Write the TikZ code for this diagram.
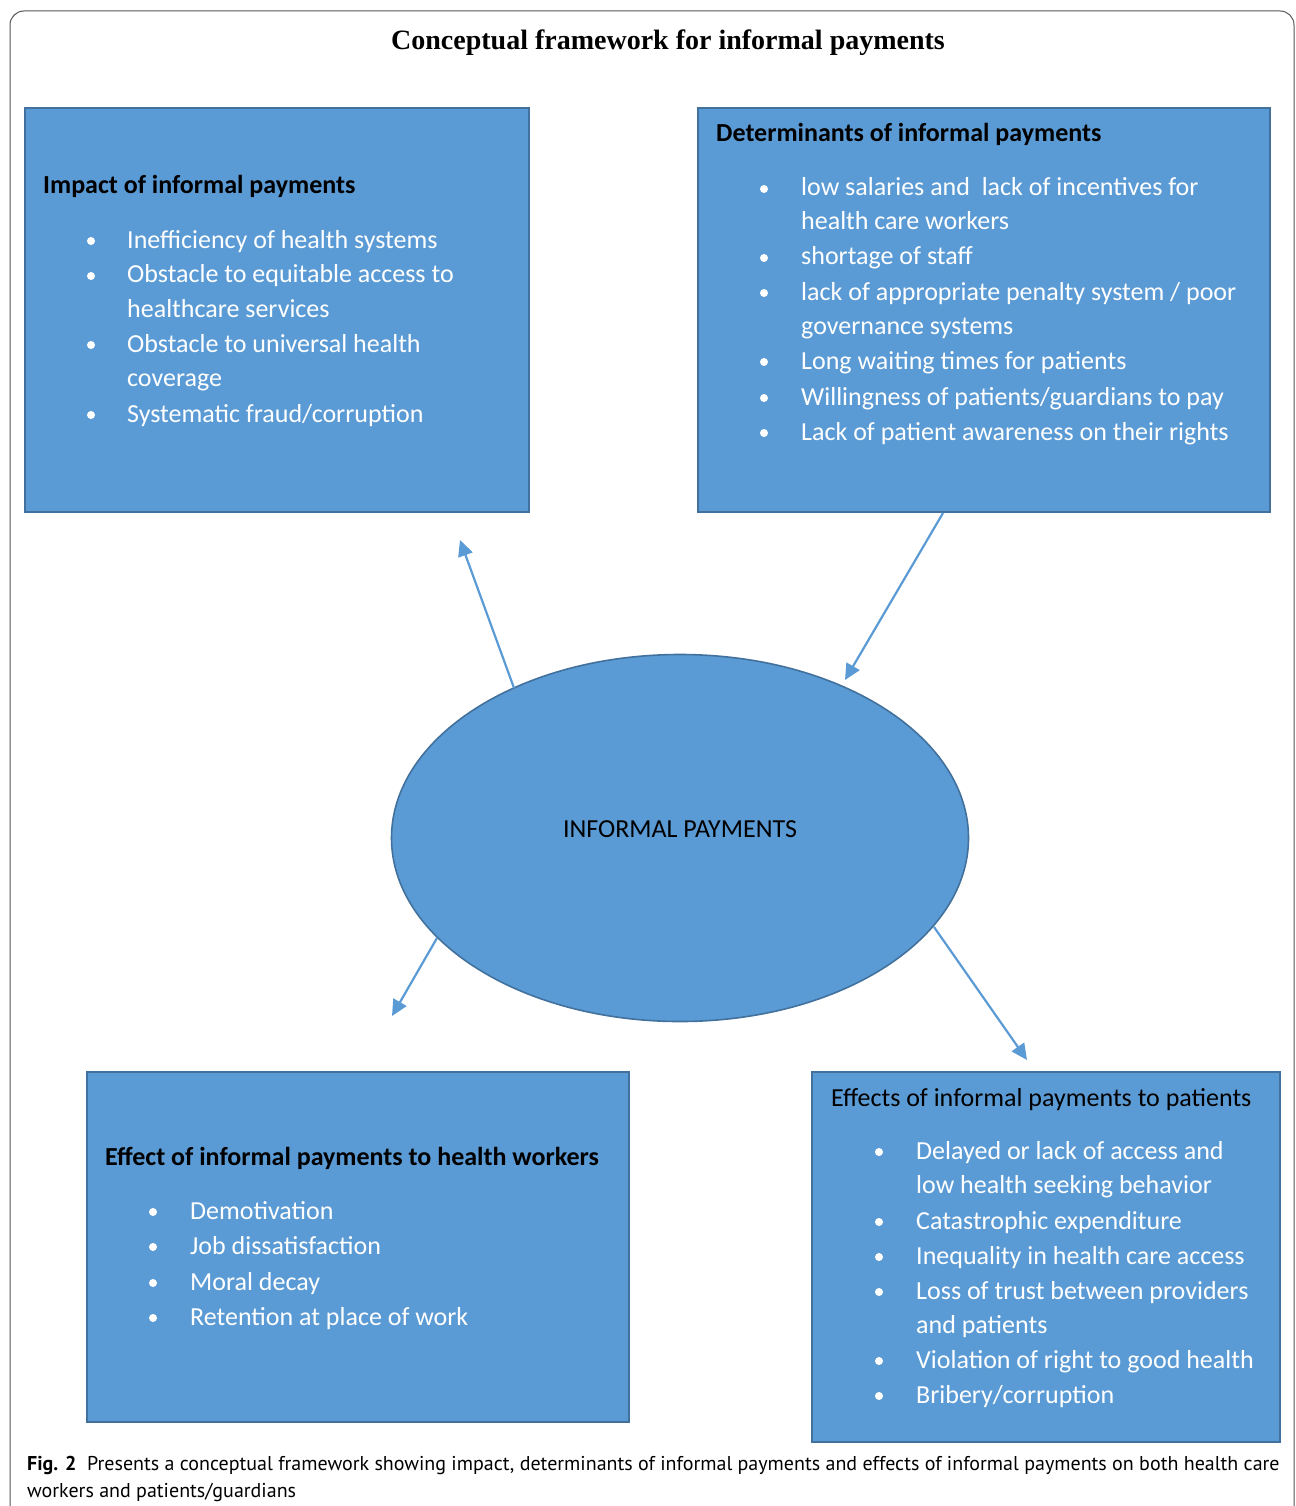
\documentclass[tikz,border=0pt]{standalone}
\usepackage{fontspec}
\setmainfont{Liberation Serif}
\newfontfamily\calibri{Carlito}
\newfontfamily\capfont{PT Sans}
\usetikzlibrary{arrows.meta,shapes.geometric}
\definecolor{boxblue}{HTML}{5B9BD5}
\definecolor{boxedge}{HTML}{41719C}
\definecolor{framegray}{HTML}{555555}
\tikzset{
  panel/.style={draw=boxedge, fill=boxblue, line width=1.6pt},
  hd/.style={anchor=base west, inner sep=0pt, text=black, font=\calibri\bfseries\fontsize{26}{31}\selectfont},
  hdreg/.style={anchor=base west, inner sep=0pt, text=black, font=\calibri\fontsize{26}{31}\selectfont},
  itm/.style={anchor=base west, inner sep=0pt, text=white, font=\calibri\fontsize{26}{31}\selectfont},
  bul/.style={circle, fill=white, inner sep=0pt, minimum size=8pt},
  conn/.style={draw=boxblue, line width=2.2pt, -{Triangle[length=16pt, width=15pt]}},
}
\begin{document}
\begin{tikzpicture}[x=1pt, y=-1pt]
\useasboundingbox (0,0) rectangle (1295,1506);
\begin{scope}
\clip (0,0) rectangle (1295,1506);
\draw[framegray, line width=1pt, rounded corners=14pt] (10,11) rectangle (1294,1540);
\end{scope}

% title
\node[anchor=base, inner sep=0pt, font=\bfseries\fontsize{28}{33}\selectfont] (title) at (668,50) {Conceptual framework for informal payments};

% panels
\draw[panel] (25,108) rectangle (529,512);
\draw[panel] (698,108) rectangle (1270,512);
\coordinate (p2b) at (943,513);
\draw[panel] (87,1072) rectangle (629,1422);
\draw[panel] (812,1072) rectangle (1280,1442);

\node[panel, ellipse, minimum width=577pt, minimum height=367pt, inner sep=0pt] (ell) at (680,838) {};
\node[anchor=base, inner sep=0pt, font=\calibri\fontsize{26}{31}\selectfont] (elltxt) at (680,837) {INFORMAL PAYMENTS};

% box 1
\node[hd] (t1) at (43,194) {Impact of informal payments};
\foreach \y/\t [count=\i] in {248/{Inefficiency of health systems}, 283/{Obstacle to equitable access to}, 352/{Obstacle to universal health}, 422/{Systematic fraud/corruption}}{
  \node[bul] (b1\i) at (91,\y-7) {};
  \node[itm] (i1\i) at (127,\y) {\t};
}
\node[itm] (c11) at (127,317) {healthcare services};
\node[itm] (c12) at (127,386) {coverage};

% box 2
\node[hd] (t2) at (716,142) {Determinants of informal payments};
\foreach \y/\t [count=\i] in {196/{low salaries and\ \ lack of incentives for}, 265/{shortage of staff}, 300/{lack of appropriate penalty system / poor}, 369/{Long waiting times for patients}, 405/{Willingness of patients/guardians to pay}, 440/{Lack of patient awareness on their rights}}{
  \node[bul] (b2\i) at (764,\y-7) {};
  \node[itm] (i2\i) at (801,\y) {\t};
}
\node[itm] (c21) at (801,230) {health care workers};
\node[itm] (c22) at (801,334) {governance systems};

% box 3
\node[hd] (t3) at (105,1165) {Effect of informal payments to health workers};
\foreach \y/\t [count=\i] in {1219/{Demotivation}, 1254/{Job dissatisfaction}, 1290/{Moral decay}, 1325/{Retention at place of work}}{
  \node[bul] (b3\i) at (153,\y-7) {};
  \node[itm] (i3\i) at (190,\y) {\t};
}

% box 4
\node[hdreg] (t4) at (831,1106) {Effects of informal payments to patients};
\foreach \y/\t [count=\i] in {1159/{Delayed or lack of access and}, 1229/{Catastrophic expenditure}, 1264/{Inequality in health care access}, 1299/{Loss of trust between providers}, 1368/{Violation of right to good health}, 1403/{Bribery/corruption}}{
  \node[bul] (b4\i) at (879,\y-7) {};
  \node[itm] (i4\i) at (916,\y) {\t};
}
\node[itm] (c41) at (916,1193) {low health seeking behavior};
\node[itm] (c42) at (916,1333) {and patients};

% arrows
\coordinate (a1s) at (514,688);
\coordinate (a1e) at (460,540);
\coordinate (a2e) at (845,680);
\coordinate (a3s) at (437,938);
\coordinate (a3e) at (392,1016);
\coordinate (a4s) at (934,927);
\coordinate (a4e) at (1027,1060);
\draw[conn] (a1s) -- (a1e);
\draw[conn] (p2b) -- (a2e);
\draw[conn] (a3s) -- (a3e);
\draw[conn] (a4s) -- (a4e);

% caption
\node[anchor=base west, inner sep=0pt, font=\capfont\fontsize{20}{24}\selectfont] (cap1) at (27,1470) {\textbf{Fig. 2}\ \ Presents a conceptual framework showing impact, determinants of informal payments and effects of informal payments on both health care};
\node[anchor=base west, inner sep=0pt, font=\capfont\fontsize{20}{24}\selectfont] (cap2) at (27,1497) {workers and patients/guardians};
\end{tikzpicture}
\end{document}
